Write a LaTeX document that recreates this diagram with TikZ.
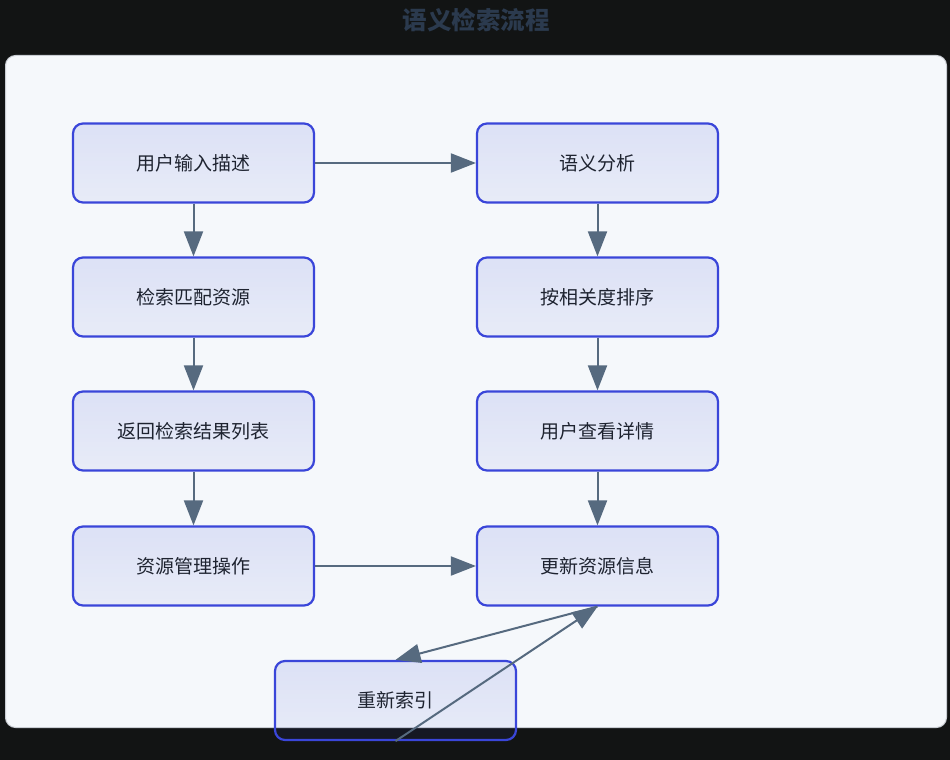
\documentclass[tikz,border=0pt]{standalone}
\usepackage{fontspec}
\newfontfamily\cjk{Noto Sans CJK SC}
\usetikzlibrary{arrows.meta,fadings}

\definecolor{pagebg}{HTML}{121414}
\definecolor{panelbg}{HTML}{F5F8FB}
\definecolor{panelline}{HTML}{C9CDD3}
\definecolor{titlecol}{HTML}{2B3A4E}
\definecolor{boxblue}{HTML}{3A46D9}
\definecolor{fillblue}{HTML}{4656DC}
\definecolor{textdark}{HTML}{1E2330}
\definecolor{arrowcol}{HTML}{566A7F}

\tikzset{
  procbox/.style={
    draw=boxblue, line width=2.2pt, rounded corners=10pt,
    minimum width=241pt, minimum height=79pt, inner sep=0pt,
    font=\cjk\fontsize{19}{21}\selectfont, text=textdark,
    preaction={fill=fillblue, fill opacity=0.07},
    preaction={fill=fillblue, fill opacity=0.07, path fading=south}
  },
  flow/.style={
    draw=arrowcol, line width=2pt,
    -{Triangle[length=25pt, width=19pt]}
  }
}

\begin{document}
\begin{tikzpicture}[x=1pt, y=-1pt]
  % page and panel
  \fill[pagebg] (0,0) rectangle (950,760);
  \useasboundingbox (0,0) rectangle (950,760);
  \draw[panelline, fill=panelbg, line width=1pt, rounded corners=10pt]
    (5.5,55.5) rectangle (946.5,727.5);

  % title
  \node[font=\cjk\bfseries\fontsize{24.5}{27}\selectfont, text=titlecol]
    (title) at (476,20) {语义检索流程};

  % left column
  \node[procbox] (input)  at (193.5,163) {用户输入描述};
  \node[procbox] (match)  at (193.5,297) {检索匹配资源};
  \node[procbox] (list)   at (193.5,431) {返回检索结果列表};
  \node[procbox] (manage) at (193.5,566) {资源管理操作};

  % right column
  \node[procbox] (parse)  at (597.5,163) {语义分析};
  \node[procbox] (rank)   at (597.5,297) {按相关度排序};
  \node[procbox] (detail) at (597.5,431) {用户查看详情};
  \node[procbox] (update) at (597.5,566) {更新资源信息};

  % reindex step
  \node[procbox] (reindex) at (395.5,700.5) {重新索引};

  % connectors
  \draw[flow] (input) -- (parse);
  \draw[flow] (input) -- (match);
  \draw[flow] (match) -- (list);
  \draw[flow] (list) -- (manage);
  \draw[flow] (parse) -- (rank);
  \draw[flow] (rank) -- (detail);
  \draw[flow] (detail) -- (update);
  \draw[flow] (manage) -- (update);
  \draw[flow] (update.south) -- (reindex.north);
  \draw[flow] (reindex.south) -- (update.south);
\end{tikzpicture}
\end{document}
